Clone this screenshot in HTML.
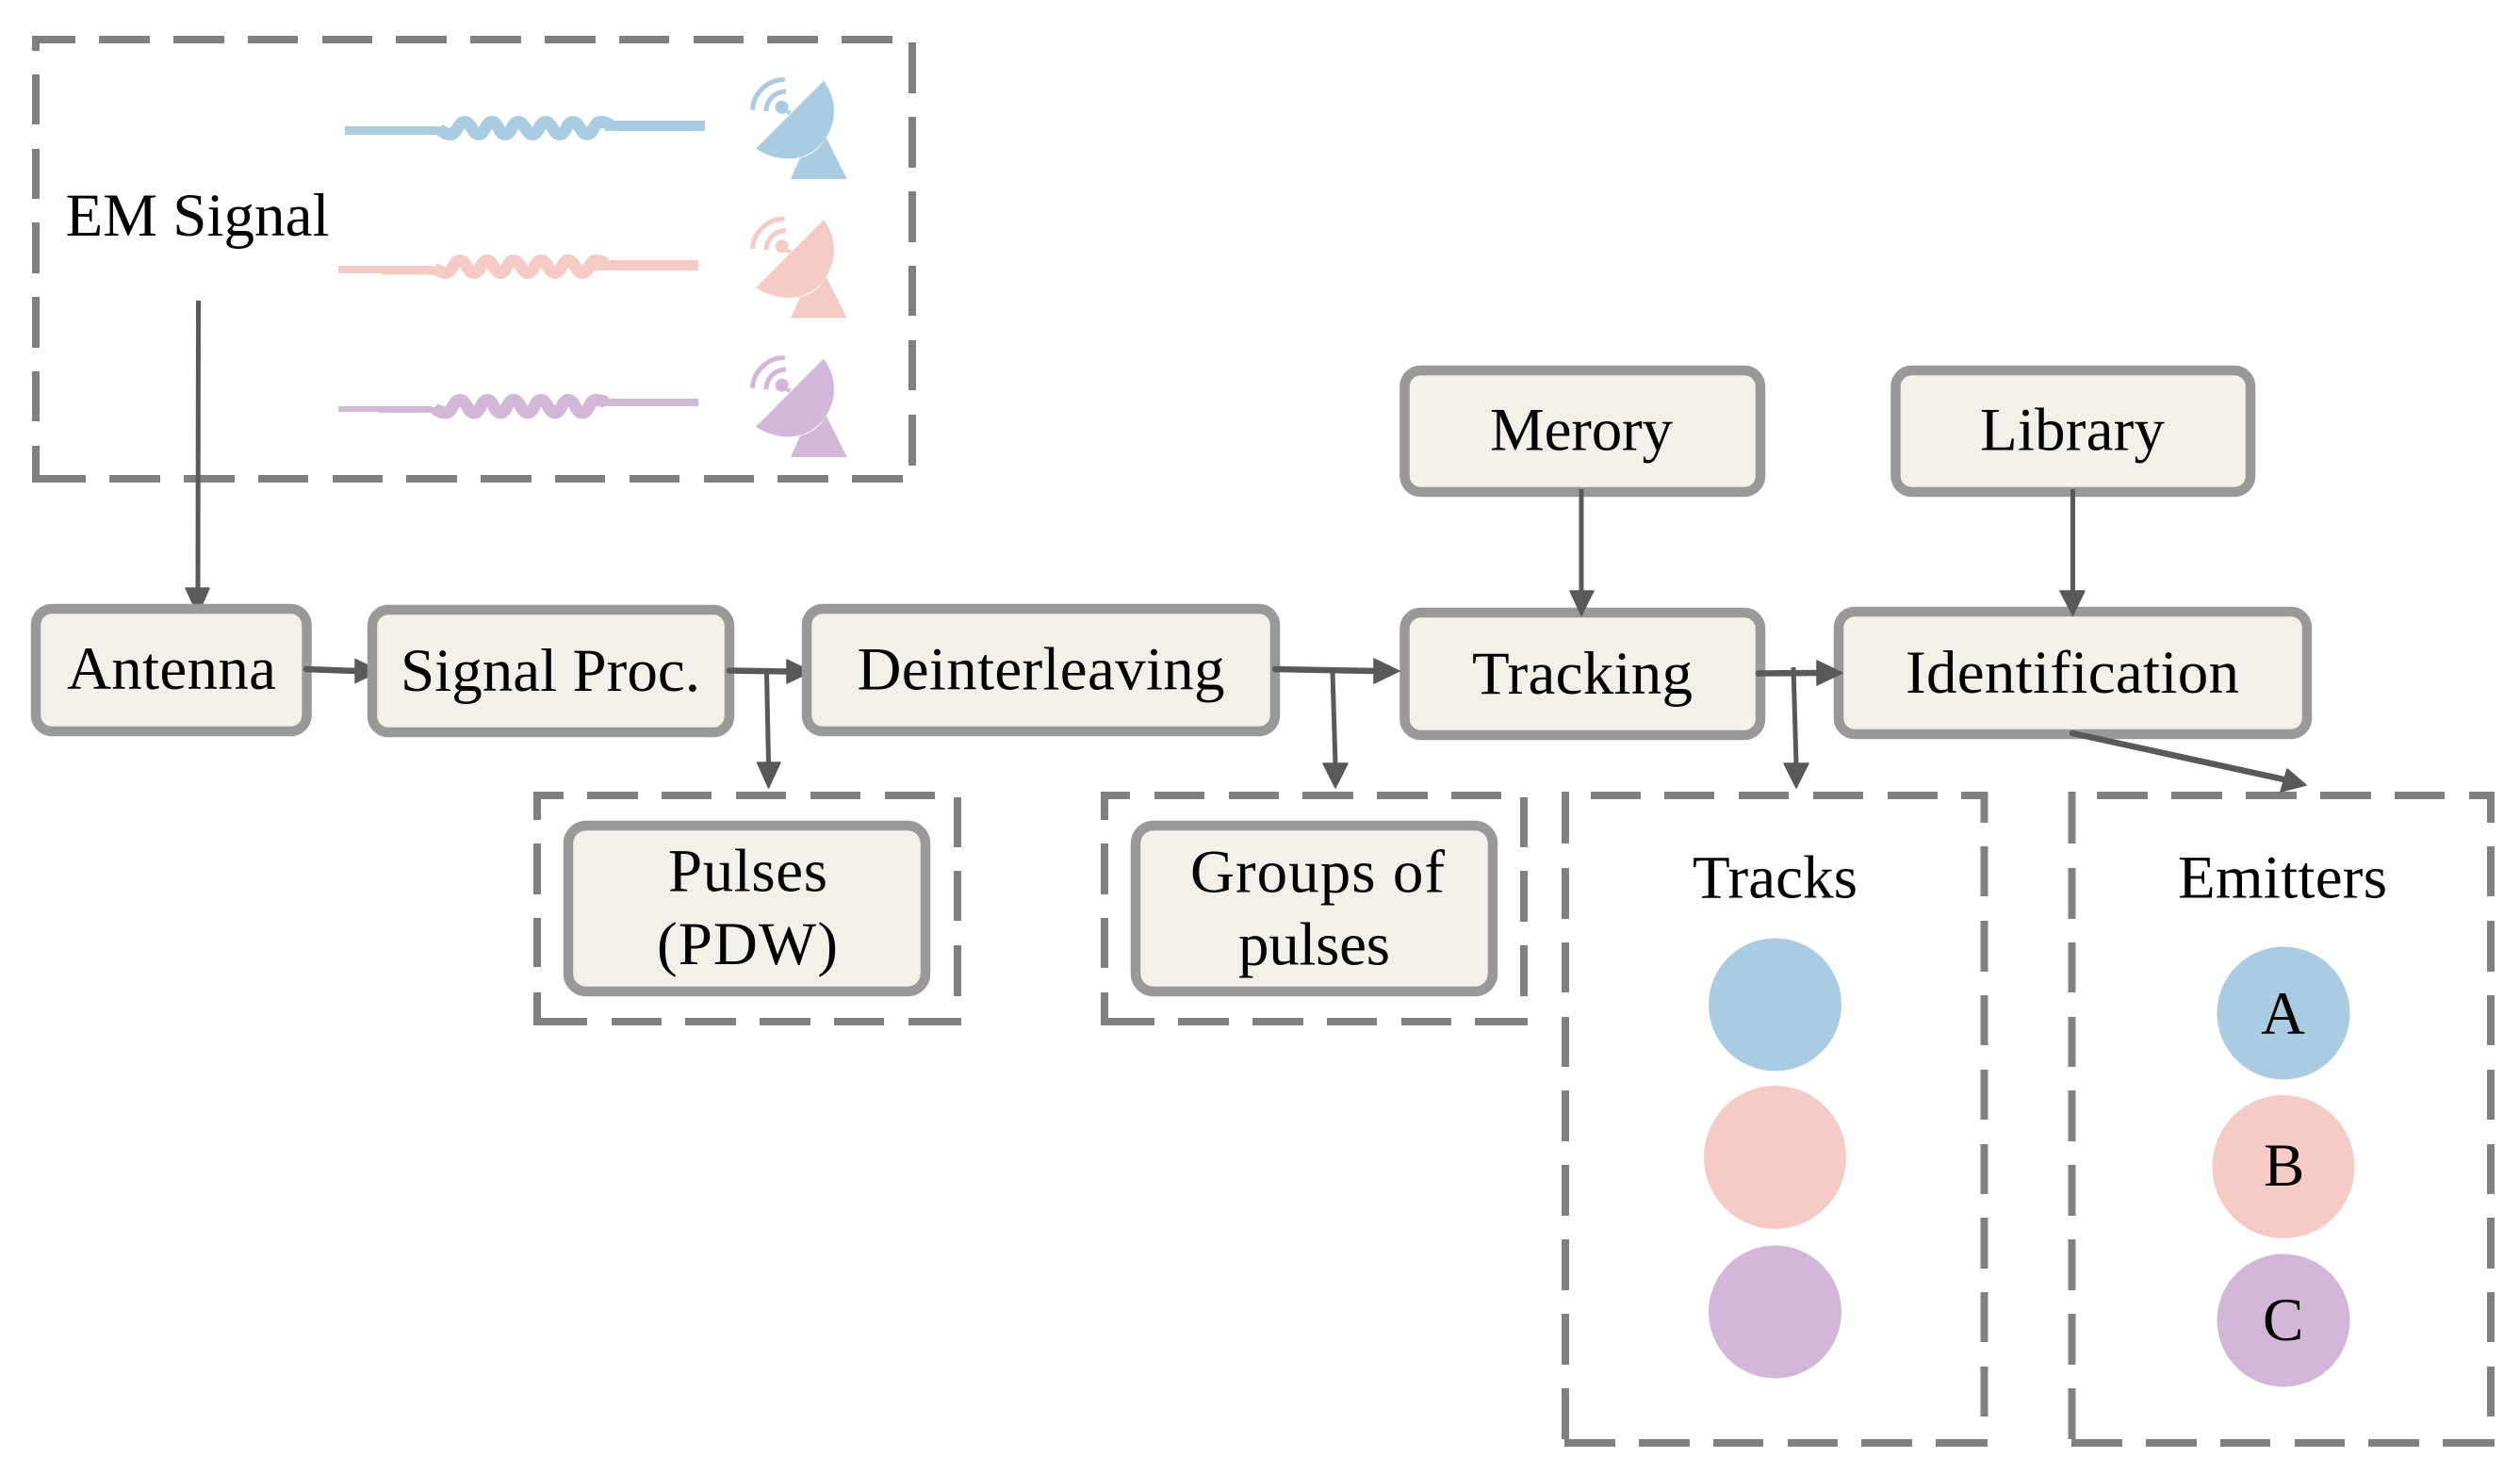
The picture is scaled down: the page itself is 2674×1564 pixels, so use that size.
<!DOCTYPE html>
<html><head><meta charset="utf-8"><style>
html,body{margin:0;padding:0;background:#fff;width:2674px;height:1564px;overflow:hidden}
svg{display:block}
text{font-family:"Liberation Serif",serif;font-size:65px;fill:#000}
.d{fill:none;stroke:#808080;stroke-width:8}
.b{fill:#f3f0e9;stroke:#999;stroke-width:10.5}
.l{fill:none;stroke:#595959;stroke-width:5}
.t{fill:none;stroke:#595959;stroke-width:6.5;stroke-linecap:round}
.h{fill:#595959;stroke:#595959;stroke-width:1.5;stroke-linejoin:round}
</style></head><body>
<svg width="2674" height="1564" viewBox="0 0 2674 1564" xmlns="http://www.w3.org/2000/svg">
<rect width="2674" height="1564" fill="#fff"/>

<!-- dashed containers -->
<path class="d" d="M34,42H80M105,42H159M184,42H238M263,42H316M342,42H395M420,42H474M499,42H553M578,42H632M657,42H710M736,42H789M814,42H868M893,42H947
M38,38V54M38,79V132M38,158V211M38,236V290M38,315V369M38,394V447M38,473V512
M34,508H91M116,508H170M195,508H249M274,508H327M353,508H406M431,508H485M510,508H564M589,508H642M668,508H721M747,508H800M825,508H879M904,508H958
M968,45V99M968,124V178M968,203V257M968,282V335M968,361V414M968,440V494"/>
<path class="d" d="M566,844H598M623,844H677M702,844H755M781,844H834M860,844H913M939,844H992
M570,840V870M570,895V949M570,974V1026M570,1053V1088
M1016,846V899M1016,924V977M1016,1003V1057
M566,1084H623M649,1084H702M727,1084H781M806,1084H860M885,1084H938M964,1084H1020"/>
<path class="d" d="M1168,844H1199M1225,844H1278M1304,844H1357M1382,844H1436M1461,844H1515M1540,844H1593
M1172,840V870M1172,895V949M1172,974V1027M1172,1053V1088
M1617,846V899M1617,924V978M1617,1003V1057
M1168,1084H1225M1250,1084H1304M1329,1084H1383M1408,1084H1461M1487,1084H1540M1565,1084H1621"/>
<path class="d" d="M1688,844H1741M1766,844H1819M1845,844H1898M1924,844H1977M2003,844H2056M2081,844H2109
M1661,840V895M1661,921V975M1661,1000V1053M1661,1079V1132M1661,1157V1211M1661,1236V1290M1661,1315V1369M1661,1394V1448M1661,1473V1527
M2105.5,841V873M2105.5,898V951M2105.5,977V1031M2105.5,1056V1109M2105.5,1135V1188M2105.5,1214V1267M2105.5,1292V1346M2105.5,1371V1424M2105.5,1450V1503
M1660,1531H1714M1739,1531H1793M1818,1531H1871M1897,1531H1950M1975,1531H2029M2054,1531H2109"/>
<path class="d" d="M2225,844H2279M2304,844H2358M2383,844H2437M2462,844H2516M2541,844H2594M2620,844H2647
M2198.5,840V895M2198.5,921V975M2198.5,1000V1053M2198.5,1079V1132M2198.5,1157V1211M2198.5,1236V1290M2198.5,1315V1369M2198.5,1394V1448M2198.5,1473V1527
M2643,841V873M2643,898V951M2643,977V1031M2643,1056V1109M2643,1135V1188M2643,1214V1267M2643,1292V1346M2643,1371V1424M2643,1450V1503
M2198,1531H2252M2277,1531H2331M2356,1531H2409M2435,1531H2488M2513,1531H2567M2592,1531H2647"/>

<!-- signal waves -->
<g fill="#aacce1">
<rect x="366" y="134" width="105" height="9"/><rect x="642" y="128" width="106" height="11"/>
<path fill="none" stroke="#aacce1" stroke-width="13" d="M466,137C470,140 473,142.500 478,142.500C485,142.500 486,129.500 493,129.500C500,129.500 501,142.500 508,142.500C515,142.500 515,129.500 522,129.500C529,129.500 529,142.500 536,142.500C543,142.500 543,129.500 550,129.500C557,129.500 558,142.500 565,142.500C572,142.500 572,129.500 579,129.500C586,129.500 587,142.500 594,142.500C601,142.500 601,129.500 608,129.500C615,129.500 616,142.500 623,142.500C630,142.500 630,129.500 637,129.500C642,129.500 644,131 648,133"/>
</g>
<g fill="#f6cbc6">
<rect x="359" y="282" width="100" height="8"/><rect x="405" y="283" width="60" height="8.500"/><rect x="631" y="276" width="110" height="11"/>
<path fill="none" stroke="#f6cbc6" stroke-width="13" d="M461,285C465,287 468,289.500 473,289.500C480,289.500 481,276.500 488,276.500C495,276.500 496,289.500 503,289.500C510,289.500 510,276.500 517,276.500C524,276.500 524,289.500 531,289.500C538,289.500 538,276.500 545,276.500C552,276.500 553,289.500 560,289.500C567,289.500 567,276.500 574,276.500C581,276.500 582,289.500 589,289.500C596,289.500 596,276.500 603,276.500C610,276.500 611,289.500 618,289.500C625,289.500 625,276.500 632,276.500C637,276.500 639,278 643,280"/>
</g>
<g fill="#d3b7d8">
<rect x="359" y="431" width="100" height="6"/><rect x="402" y="432" width="60" height="6"/><rect x="636" y="423" width="105" height="8"/>
<path fill="none" stroke="#d3b7d8" stroke-width="13" d="M461,434C465,436 468,438 473,438C480,438 481,424.500 488,424.500C495,424.500 496,438 503,438C510,438 510,424.500 517,424.500C524,424.500 524,438 531,438C538,438 538,424.500 545,424.500C552,424.500 553,438 560,438C567,438 567,424.500 574,424.500C581,424.500 582,438 589,438C596,438 596,424.500 603,424.500C610,424.500 611,438 618,438C625,438 625,424.500 632,424.500C637,424.500 639,425 643,427"/>
</g>

<!-- dishes -->
<g fill="#aacce1">
<path d="M874,85.700L802,157.700C818,168 836,171 852,166C868,160 880,146 884,128C887,112 883,98 874,85.700Z"/>
<path d="M876.700,146L898.700,190H839L849,167.500C862,165 871,156 876.700,146Z"/>
<circle cx="829.700" cy="113.700" r="7"/><path d="M832,118L840,117L837,122Z"/>
<path fill="none" stroke="#aacce1" stroke-width="5" d="M798.500,116.700A34,34 0 0 1 832.700,84.500M813,118A21,21 0 0 1 834,97"/>
</g>
<g fill="#f6cbc6" transform="translate(0,147.600)">
<path d="M874,85.700L802,157.700C818,168 836,171 852,166C868,160 880,146 884,128C887,112 883,98 874,85.700Z"/>
<path d="M876.700,146L898.700,190H839L849,167.500C862,165 871,156 876.700,146Z"/>
<circle cx="829.700" cy="113.700" r="7"/><path d="M832,118L840,117L837,122Z"/>
<path fill="none" stroke="#f6cbc6" stroke-width="5" d="M798.500,116.700A34,34 0 0 1 832.700,84.500M813,118A21,21 0 0 1 834,97"/>
</g>
<g fill="#d3b7d8" transform="translate(0,295)">
<path d="M874,85.700L802,157.700C818,168 836,171 852,166C868,160 880,146 884,128C887,112 883,98 874,85.700Z"/>
<path d="M876.700,146L898.700,190H839L849,167.500C862,165 871,156 876.700,146Z"/>
<circle cx="829.700" cy="113.700" r="7"/><path d="M832,118L840,117L837,122Z"/>
<path fill="none" stroke="#d3b7d8" stroke-width="5" d="M798.500,116.700A34,34 0 0 1 832.700,84.500M813,118A21,21 0 0 1 834,97"/>
</g>

<!-- arrowheads hidden behind boxes -->
<path class="h" d="M197,624H222L210,652Z"/>
<path class="h" d="M377,699.500V724.500L403,712Z"/>
<path class="h" d="M835,700V725L861,712.500Z"/>

<!-- boxes -->
<rect class="b" x="38" y="646" width="287.500" height="130" rx="17"/>
<rect class="b" x="395" y="647" width="379" height="130" rx="17"/>
<rect class="b" x="856" y="646" width="497" height="130" rx="17"/>
<rect class="b" x="1490.500" y="650" width="377.500" height="130" rx="17"/>
<rect class="b" x="1951" y="649" width="497" height="130" rx="17"/>
<rect class="b" x="1490.500" y="393" width="377.500" height="129" rx="17"/>
<rect class="b" x="2011.500" y="393" width="376.500" height="129" rx="17"/>
<rect class="b" x="603" y="876" width="379" height="176" rx="19"/>
<rect class="b" x="1205" y="876" width="379" height="176" rx="19"/>

<!-- connector lines -->
<path class="l" d="M210.500,319L210,626"/>
<path class="t" d="M325,710L378,712"/>
<path class="t" d="M774,711.500L836,712.500"/>
<path class="l" d="M813.500,713L815.500,810"/>
<path class="h" d="M803.500,809H828L815.500,836Z"/>
<path class="t" d="M1353,710L1460,712"/>
<path class="h" d="M1458,699V725L1485,712Z"/>
<path class="l" d="M1414,713L1417,811"/>
<path class="h" d="M1404,810H1430L1417,836Z"/>
<path class="t" d="M1866,714.500L1930,714"/>
<path class="h" d="M1928,701V727L1955,714Z"/>
<path class="l" d="M1903,708L1906,811"/>
<path class="h" d="M1893,810H1919L1906,836Z"/>
<path class="l" d="M1678,519V628"/>
<path class="h" d="M1666,627H1691L1678,653Z"/>
<path class="l" d="M2199.500,519V628"/>
<path class="h" d="M2186,627H2212L2199.500,653Z"/>
<path class="t" d="M2199,778L2428,828"/>
<path class="h" d="M2427,816L2447,833L2420,840Z"/>

<!-- circles -->
<ellipse cx="1883.500" cy="1066" rx="70.500" ry="70.500" fill="#aacce1"/>
<ellipse cx="1883.500" cy="1228" rx="75.500" ry="76" fill="#f6cbc6"/>
<ellipse cx="1883.500" cy="1392" rx="70.500" ry="70.500" fill="#d3b7d8"/>
<ellipse cx="2423" cy="1075" rx="70.500" ry="70.500" fill="#aacce1"/>
<ellipse cx="2423" cy="1238" rx="75.500" ry="76" fill="#f6cbc6"/>
<ellipse cx="2423" cy="1401" rx="70.500" ry="70.500" fill="#d3b7d8"/>

<!-- labels -->
<text x="69.500" y="250" textLength="280">EM Signal</text>
<text x="71" y="731" textLength="222">Antenna</text>
<text x="425" y="733" textLength="318">Signal Proc.</text>
<text x="909.500" y="731.500" textLength="390">Deinterleaving</text>
<text x="1562" y="736" textLength="234">Tracking</text>
<text x="2022" y="735" textLength="354">Identification</text>
<text x="1581" y="477.500" textLength="194">Merory</text>
<text x="2101" y="477.500" textLength="196">Library</text>
<text x="709" y="945.500" textLength="169">Pulses</text>
<text x="697" y="1023" textLength="192">(PDW)</text>
<text x="1263" y="946.500" textLength="270">Groups of</text>
<text x="1314" y="1023.500" textLength="161">pulses</text>
<text x="1796" y="952.500" textLength="175">Tracks</text>
<text x="2311" y="952.500" textLength="222">Emitters</text>
<text x="2399" y="1097">A</text>
<text x="2402" y="1258">B</text>
<text x="2401" y="1422">C</text>
</svg>
</body></html>
